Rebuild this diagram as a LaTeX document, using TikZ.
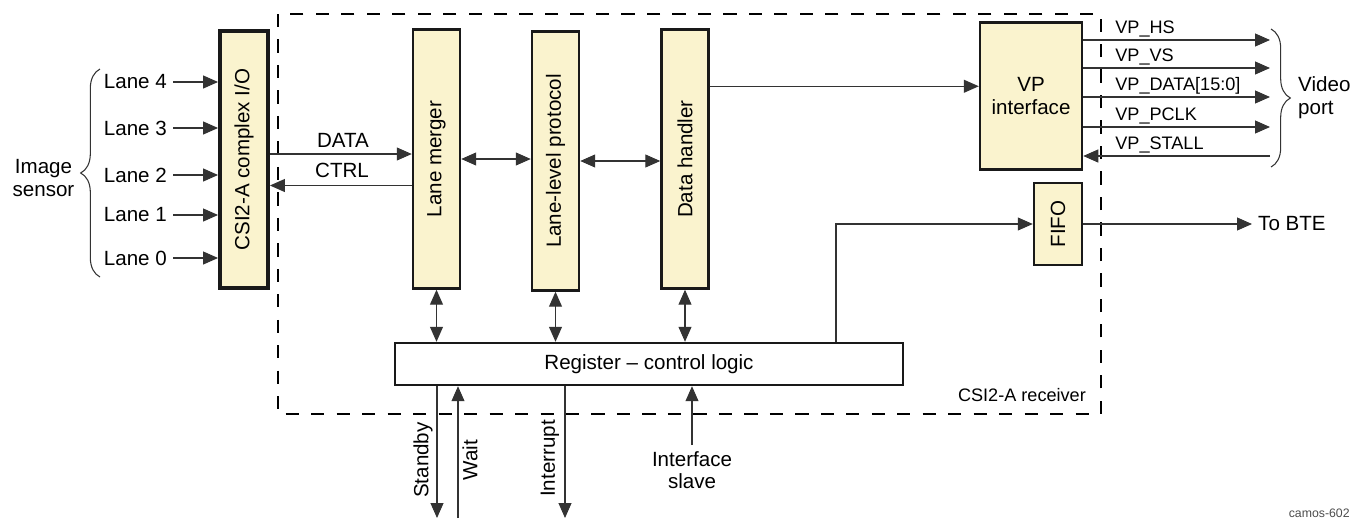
\documentclass[tikz,border=0pt]{standalone}
\usepackage{fontspec}
\setmainfont{Liberation Sans}
\usepackage{tikz}
\usetikzlibrary{arrows.meta,positioning,calc,decorations.pathreplacing}
\definecolor{blkfill}{RGB}{250,243,206}

\begin{document}
\begin{tikzpicture}[
    font=\fontsize{11.7}{13}\selectfont,
    blk/.style={draw=black!90, line width=1.4pt, fill=blkfill, inner sep=0pt},
    vblk/.style={blk, minimum width=0.94cm, minimum height=5.18cm},
    arr/.style={-{Triangle[length=3mm,width=2.6mm]}, line width=0.6pt, black!80},
    darr/.style={{Triangle[length=3mm,width=2.6mm]}-{Triangle[length=3mm,width=2.6mm]}, line width=0.6pt, black!80},
    sig/.style={anchor=base west, inner sep=0pt, font=\fontsize{10.3}{12}\selectfont}
]
\useasboundingbox (0,0) rectangle (27.06,-10.36);
% receiver border
\draw[line width=1.1pt, dash pattern=on 7.5pt off 7pt] (5.56,-0.28) rectangle (22.02,-8.28);
\node[anchor=east, font=\fontsize{10.3}{12}\selectfont] (rcv) at (21.84,-7.9) {CSI2-A receiver};

% blocks
\node[vblk, line width=2.2pt, minimum width=0.96cm, minimum height=5.14cm] (csi) at (4.88,-3.19) {};
\node[rotate=90] (csilbl) at (csi) {CSI2-A complex I/O};
\node[vblk] (merger) at (8.73,-3.18) {};
\node[rotate=90] (mergerlbl) at (merger) {Lane merger};
\node[vblk] (llp) at (11.11,-3.22) {};
\node[rotate=90] (llplbl) at (llp) {Lane-level protocol};
\node[vblk] (handler) at (13.7,-3.18) {};
\node[rotate=90] (handlerlbl) at (handler) {Data handler};
\node[blk, minimum width=2.04cm, minimum height=2.94cm, align=center] (vp) at (20.62,-1.92) {VP\\interface};
\node[blk, minimum width=0.96cm, minimum height=1.64cm] (fifo) at (21.16,-4.48) {};
\node[rotate=90] (fifolbl) at (fifo) {FIFO};
\node[draw=black!90, line width=1.4pt, minimum width=10.16cm, minimum height=0.84cm] (reg) at (12.98,-7.28) {Register -- control logic};

% image sensor lanes
\node[anchor=east] (lane4) at (3.46,-1.64) {Lane 4};
\node[anchor=east] (lane3) at (3.46,-2.56) {Lane 3};
\node[anchor=east] (lane2) at (3.46,-3.5) {Lane 2};
\node[anchor=east] (lane1) at (3.46,-4.3) {Lane 1};
\node[anchor=east] (lane0) at (3.46,-5.16) {Lane 0};
\draw[arr] (lane4.east) -- (lane4.east -| csi.west);
\draw[arr] (lane3.east) -- (lane3.east -| csi.west);
\draw[arr] (lane2.east) -- (lane2.east -| csi.west);
\draw[arr] (lane1.east) -- (lane1.east -| csi.west);
\draw[arr] (lane0.east) -- (lane0.east -| csi.west);
\draw[decorate, decoration={brace, amplitude=11pt}, line width=0.6pt, black!80] (2.0,-5.54) -- (2.0,-1.38);
\node[align=center] (sensor) at (0.87,-3.56) {Image\\sensor};

% data path
\draw[arr] ([yshift=0.11cm]csi.east) -- ([yshift=0.11cm]csi.east -| merger.west);
\node (datalbl) at (6.86,-2.8) {DATA};
\draw[arr] ([yshift=-0.53cm]merger.west) -- ([yshift=-0.53cm]merger.west -| csi.east);
\node (ctrllbl) at (6.84,-3.4) {CTRL};
\draw[darr] (merger.east) -- (merger.east -| llp.west);
\draw[darr] (llp.east) -- (llp.east -| handler.west);
\draw[arr] ([yshift=-1.16cm]handler.north east) -- ([yshift=-1.16cm]handler.north east -| vp.west);

% video port
\coordinate (hs) at (25.4,-0.8);
\coordinate (vs) at (25.4,-1.36);
\coordinate (vdata) at (25.4,-1.94);
\coordinate (pclk) at (25.4,-2.54);
\coordinate (stall) at (25.4,-3.12);
\draw[arr] (vp.east |- hs) -- (hs);
\draw[arr] (vp.east |- vs) -- (vs);
\draw[arr] (vp.east |- vdata) -- (vdata);
\draw[arr] (vp.east |- pclk) -- (pclk);
\draw[arr] (stall) -- (vp.east |- stall);
\node[sig] (hslbl) at (22.3,-0.66) {VP\_HS};
\node[sig] (vslbl) at (22.3,-1.22) {VP\_VS};
\node[sig] (vdatalbl) at (22.3,-1.8) {VP\_DATA[15:0]};
\node[sig] (pclklbl) at (22.3,-2.4) {VP\_PCLK};
\node[sig] (stalllbl) at (22.3,-2.98) {VP\_STALL};
\draw[decorate, decoration={brace, amplitude=11pt}, line width=0.6pt, black!80] (25.42,-0.58) -- (25.42,-3.34);
\node[align=left, anchor=west] (vport) at (25.84,-1.96) {Video\\port};

% fifo output
\draw[arr] ([xshift=3.74cm]reg.north) |- (fifo.west);
\node[anchor=west] (bte) at (25.04,-4.48) {To BTE};
\draw[arr] (fifo.east) -- (bte.west);

% register links
\draw[darr] (merger.south) -- (merger.south |- reg.north);
\draw[darr] (llp.south) -- (llp.south |- reg.north);
\draw[darr] (handler.south) -- (handler.south |- reg.north);

% control signals
\coordinate (sbyend) at (8.74,-10.36);
\coordinate (waitst) at (9.16,-10.36);
\coordinate (intrend) at (11.3,-10.36);
\draw[arr] (reg.south -| sbyend) -- (sbyend);
\draw[arr] (waitst) -- (waitst |- reg.south);
\draw[arr] (reg.south -| intrend) -- (intrend);
\node[rotate=90] (sbylbl) at (8.46,-9.2) {Standby};
\node[rotate=90] (waitlbl) at (9.4,-9.2) {Wait};
\node[rotate=90] (intrlbl) at (11.0,-9.17) {Interrupt};
\node[align=center, anchor=north] (slave) at (13.84,-8.9) {Interface\\slave};
\draw[arr] (slave.north) -- (slave.north |- reg.south);

\node[anchor=south east, inner sep=0pt, font=\fontsize{7}{8}\selectfont, black!70] (figid) at (27.0,-10.36) {camos-602};
\end{tikzpicture}
\end{document}
